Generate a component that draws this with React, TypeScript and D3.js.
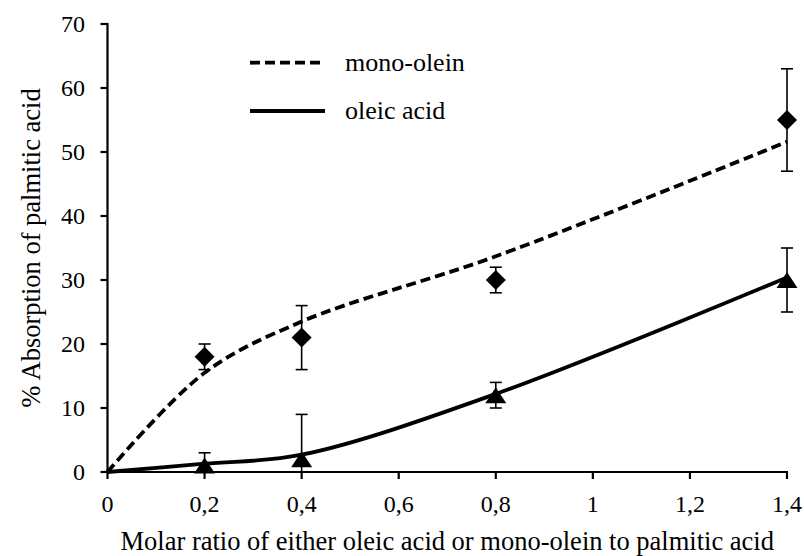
import React from "react";
import * as d3 from "d3";

// Molar ratio levels
const ratios = [0.2, 0.4, 0.8, 1.4];

// Measured absorption (%) with error bars
const monoOleinValues = [18, 21, 30, 55];
const monoOleinErrors = [2, 5, 2, 8];
const oleicValues = [1, 2, 12, 30];
const oleicErrors = [2, 7, 2, 5];

// Fitted trend curves
const fitRatios = [0, 0.2, 0.4, 0.8, 1.4];
const monoOleinFit = [0, 15.5, 23.5, 33.7, 51.6];
const oleicFit = [0, 1.3, 2.7, 12.2, 30.4];

// Axis ticks
const xTicks = [0, 0.2, 0.4, 0.6, 0.8, 1, 1.2, 1.4];
const yTicks = [0, 10, 20, 30, 40, 50, 60, 70];

const W = 804;
const H = 556;
const textStyle = { fontFamily: '"Liberation Serif", "DejaVu Serif", serif' };

export default function App() {
  const x = d3.scaleLinear().domain([0, 1.4]).range([107.5, 787]);
  const y = d3.scaleLinear().domain([0, 70]).range([472, 24]);

  const line = d3
    .line<number>()
    .x((_, i) => x(fitRatios[i]))
    .y((v) => y(v))
    .curve(d3.curveCatmullRom.alpha(0.5));

  const fmt = (v: number) => String(v).replace(".", ",");

  const [x0, x1] = x.range();
  const [y0, y1] = y.range();

  const diamond = (cx: number, cy: number, r: number) =>
    `M${cx},${cy - r}L${cx + r},${cy}L${cx},${cy + r}L${cx - r},${cy}Z`;
  const triangle = (cx: number, cy: number, w: number, h: number) =>
    `M${cx},${cy - h / 2}L${cx + w / 2},${cy + h / 2}L${cx - w / 2},${cy + h / 2}Z`;

  const errorBar = (xv: number, v: number, e: number, key: string) => {
    const cx = x(xv);
    const top = y(v + e);
    const bot = Math.min(y(Math.max(v - e, 0)), y0);
    const capTop = v + e <= 70;
    const capBot = v - e >= 0;
    return (
      <g key={key} stroke="#000" strokeWidth={1.6}>
        <line x1={cx} x2={cx} y1={top} y2={bot} />
        {capTop && <line x1={cx - 6} x2={cx + 6} y1={top} y2={top} />}
        {capBot && <line x1={cx - 6} x2={cx + 6} y1={bot} y2={bot} />}
      </g>
    );
  };

  return (
    <svg
      width={W}
      height={H}
      style={{ position: "absolute", left: 0, top: 0, background: "#fff" }}
    >
      <rect x={0} y={0} width={W} height={H} fill="#fff" />

      {/* error bars */}
      {ratios.map((r, i) => errorBar(r, monoOleinValues[i], monoOleinErrors[i], "m" + i))}
      {ratios.map((r, i) => errorBar(r, oleicValues[i], oleicErrors[i], "o" + i))}

      {/* trend curves */}
      <path
        d={line(monoOleinFit) || ""}
        fill="none"
        stroke="#000"
        strokeWidth={3.8}
        strokeDasharray="10,5"
      />
      <path d={line(oleicFit) || ""} fill="none" stroke="#000" strokeWidth={3.8} />

      {/* markers */}
      {ratios.map((r, i) => (
        <path key={"md" + i} d={diamond(x(r), y(monoOleinValues[i]), 10)} fill="#000" />
      ))}
      {ratios.map((r, i) => (
        <path key={"ot" + i} d={triangle(x(r), y(oleicValues[i]), 21, 16)} fill="#000" />
      ))}

      {/* axes */}
      <g stroke="#000" strokeWidth={2.2}>
        <line x1={x0} x2={x0} y1={y1 - 1} y2={y0 + 1} />
        <line x1={x0 - 1} x2={x1 + 1} y1={y0} y2={y0} />
        {yTicks.map((t) => (
          <line key={"yt" + t} x1={x0 - 7} x2={x0} y1={y(t)} y2={y(t)} />
        ))}
        {xTicks.map((t) => (
          <line key={"xt" + t} x1={x(t)} x2={x(t)} y1={y0} y2={y0 + 7} />
        ))}
      </g>
      {yTicks.map((t) => (
        <text key={"yl" + t} x={85} y={y(t)} dy="0.35em" textAnchor="end" fontSize={24} style={textStyle}>
          {fmt(t)}
        </text>
      ))}
      {xTicks.map((t) => (
        <text key={"xl" + t} x={x(t)} y={512} textAnchor="middle" fontSize={24} style={textStyle}>
          {fmt(t)}
        </text>
      ))}

      {/* axis titles */}
      <text x={(x0 + x1) / 2} y={550} textAnchor="middle" fontSize={26.5} style={textStyle}>
        Molar ratio of either oleic acid or mono-olein to palmitic acid
      </text>
      <text
        transform={`translate(40,${(y0 + y1) / 2}) rotate(-90)`}
        textAnchor="middle"
        fontSize={26.5}
        style={textStyle}
      >
        % Absorption of palmitic acid
      </text>

      {/* legend */}
      <line x1={250} x2={325} y1={62.7} y2={62.7} stroke="#000" strokeWidth={3.8} strokeDasharray="10,5" />
      <text x={345} y={62.7} dy="0.3em" fontSize={26} style={textStyle}>mono-olein</text>
      <line x1={250} x2={325} y1={111} y2={111} stroke="#000" strokeWidth={3.8} />
      <text x={345} y={111} dy="0.3em" fontSize={26} style={textStyle}>oleic acid</text>
    </svg>
  );
}
